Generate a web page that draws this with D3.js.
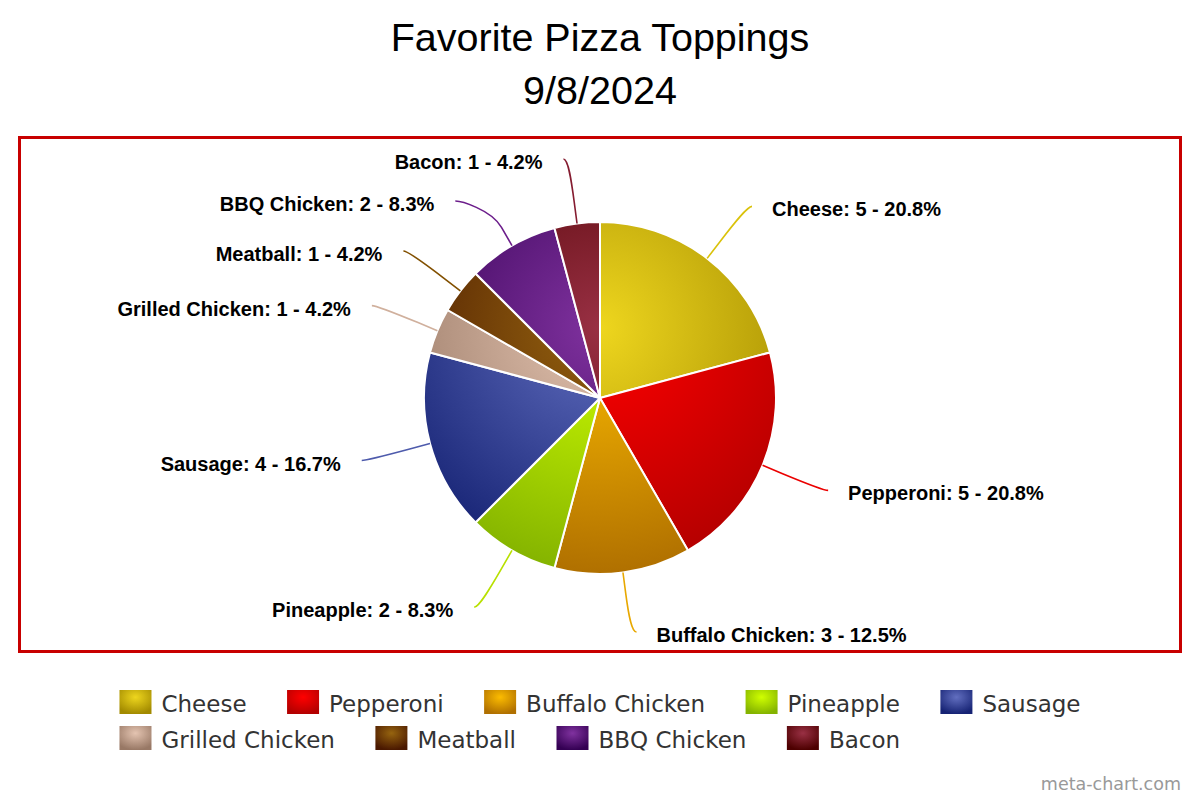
<!DOCTYPE html>
<html>
<head>
<meta charset="utf-8">
<script src="https://cdn.jsdelivr.net/npm/d3@7/dist/d3.min.js"></script>
<style>
  html, body { margin: 0; padding: 0; background: #fff; }
  svg { display: block; }
</style>
</head>
<body>
<svg id="chart" width="1200" height="800"></svg>
<script>
// ---- data ----
const titleLines = ["Favorite Pizza Toppings", "9/8/2024"];
const categories = ["Cheese", "Pepperoni", "Buffalo Chicken", "Pineapple", "Sausage",
                    "Grilled Chicken", "Meatball", "BBQ Chicken", "Bacon"];
const values = [5, 5, 3, 2, 4, 1, 1, 2, 1];
const colors = ["#eed61e", "#ff0000", "#fcbc00", "#d0ff00", "#626fc0",
                "#e4c4b1", "#96640f", "#80329f", "#993044"];
const credit = "meta-chart.com";

// ---- layout ----
const W = 1200, H = 800;
const plot = { x: 21, y: 139, w: 1158, h: 511 };
const cx = 600, cy = 398, R = 176;
const labelDist = 65.5;
const connOffset = 21;
const labelGap = 42;

const svg = d3.select("#chart");
const defs = svg.append("defs");

function darker(hex, amt) {
  const c = d3.rgb(hex);
  return d3.rgb(Math.max(0, c.r - amt), Math.max(0, c.g - amt), Math.max(0, c.b - amt)).formatHex();
}

// gradients for slices (relative to whole pie, in the pie group's coordinates) and legend symbols
colors.forEach((col, i) => {
  const g = defs.append("radialGradient")
    .attr("id", "pg" + i)
    .attr("gradientUnits", "userSpaceOnUse")
    .attr("cx", 0).attr("cy", -R + 0.3 * 2 * R).attr("r", 0.7 * 2 * R);
  g.append("stop").attr("offset", 0).attr("stop-color", col);
  g.append("stop").attr("offset", 1).attr("stop-color", darker(col, 76));
  const lg = defs.append("radialGradient")
    .attr("id", "lg" + i)
    .attr("cx", 0.5).attr("cy", 0.3).attr("r", 0.7);
  lg.append("stop").attr("offset", 0).attr("stop-color", col);
  lg.append("stop").attr("offset", 1).attr("stop-color", darker(col, 76));
});

// title
svg.append("g").selectAll("text").data(titleLines).join("text")
  .attr("x", W / 2)
  .attr("y", (d, i) => 51 + i * 53)
  .attr("text-anchor", "middle")
  .attr("font-family", "'Liberation Sans', Arial, sans-serif")
  .attr("font-size", 39.5)
  .attr("fill", "#000")
  .text(d => d);

// plot border
svg.append("rect")
  .attr("x", plot.x - 1.5).attr("y", plot.y - 1.5)
  .attr("width", plot.w + 3).attr("height", plot.h + 3)
  .attr("fill", "none").attr("stroke", "#c80000").attr("stroke-width", 3);

// pie
const total = d3.sum(values);
const pie = d3.pie().sort(null).value(d => d.v).startAngle(0).endAngle(2 * Math.PI);
const arcs = pie(values.map((v, i) => ({ v, i, name: categories[i], color: colors[i] })));
const arc = d3.arc().innerRadius(0).outerRadius(R);

const gPie = svg.append("g").attr("transform", `translate(${cx},${cy})`);
gPie.selectAll("path").data(arcs).join("path")
  .attr("d", arc)
  .attr("fill", d => `url(#pg${d.data.i})`)
  .attr("stroke", "#fff")
  .attr("stroke-width", 2)
  .attr("stroke-linejoin", "round");

// labels
const fmt = d3.format(".1f");
const LR = R + labelDist;
const labels = arcs.map(d => {
  const a = (d.startAngle + d.endAngle) / 2;
  const s = Math.sin(a), c = Math.cos(a);
  return {
    d, a, s, c,
    right: s >= 0,
    y0: cy - c * LR,
    text: `${d.data.name}: ${d.data.v} - ${fmt(d.data.v / total * 100)}%`
  };
});
const yMin = plot.y + 20, yMax = plot.y + plot.h - 18;
[true, false].forEach(side => {
  const grp = labels.filter(l => l.right === side).sort((a, b) => a.y0 - b.y0);
  let prev = -Infinity;
  grp.forEach(l => {
    l.y = Math.max(l.y0, prev + labelGap, yMin);
    prev = l.y;
  });
  let next = Infinity;
  for (let k = grp.length - 1; k >= 0; k--) {
    const l = grp[k];
    l.y = Math.min(l.y, next - labelGap, yMax);
    next = l.y;
  }
});
labels.forEach(l => {
  // near the top and bottom of the pie, keep the natural x position
  const yy = (l.y === yMax || l.y === yMin) ? l.y0 : l.y;
  const dy = yy - cy;
  const dx = Math.abs(dy) < LR ? Math.sqrt(LR * LR - dy * dy) : 0;
  l.x = l.right ? cx + dx : cx - dx;
  l.bx = cx + l.s * R; l.by = cy - l.c * R;
  l.b2x = cx + l.s * (R + connOffset); l.b2y = cy - l.c * (R + connOffset);
});

const gLab = svg.append("g");
gLab.selectAll("path").data(labels).join("path")
  .attr("d", l => {
    const hx = l.x + (l.right ? 5 : -5);
    return `M${hx},${l.y}C${l.x},${l.y} ${2 * l.b2x - l.bx},${2 * l.b2y - l.by} ${l.b2x},${l.b2y}L${l.bx},${l.by}`;
  })
  .attr("fill", "none")
  .attr("stroke", l => l.d.data.color === "#d0ff00" ? "#b8e000" : darker(l.d.data.color, 20))
  .attr("stroke-width", 1.6);

gLab.selectAll("text").data(labels).join("text")
  .attr("x", l => l.right ? l.x + 25 : l.x - 26)
  .attr("y", l => l.y + 10)
  .attr("text-anchor", l => l.right ? "start" : "end")
  .attr("font-family", "'Liberation Sans', Arial, sans-serif")
  .attr("font-weight", "bold")
  .attr("font-size", 20)
  .attr("fill", "#000")
  .text(l => l.text);

// legend
const gLeg = svg.append("g");
const legFont = "'DejaVu Sans', Verdana, sans-serif";
const legSize = 23;
const items = categories.map((name, i) => ({ name, i }));
const tmp = gLeg.append("text").attr("font-family", legFont).attr("font-size", legSize);
items.forEach(it => { tmp.text(it.name); it.tw = tmp.node().getComputedTextLength(); it.w = 42 + it.tw; });
tmp.remove();
const itemDist = 40.5, maxRow = 1000, rowH = 36, firstBase = 712;
const rows = [[]];
let rx = 0;
items.forEach(it => {
  const row = rows[rows.length - 1];
  if (row.length && rx + it.w > maxRow) { rows.push([]); rx = 0; }
  it.ox = rx; it.row = rows.length - 1;
  rows[rows.length - 1].push(it);
  rx += it.w + itemDist;
});
const legW = d3.max(rows, r => d3.max(r, it => it.ox + it.w));
const legX = (W - legW) / 2;
const gi = gLeg.selectAll("g").data(items).join("g")
  .attr("transform", it => `translate(${legX + it.ox},${firstBase + it.row * rowH})`);
gi.append("rect")
  .attr("x", 0).attr("y", -22).attr("width", 32).attr("height", 24)
  .attr("fill", it => `url(#lg${it.i})`);
gi.append("text")
  .attr("x", 42).attr("y", 0)
  .attr("font-family", legFont).attr("font-size", legSize)
  .attr("fill", "#333")
  .text(it => it.name);

// credit
svg.append("text")
  .attr("x", 1181).attr("y", 790)
  .attr("text-anchor", "end")
  .attr("font-family", legFont).attr("font-size", 17.5)
  .attr("fill", "#999")
  .text(credit);
</script>
</body>
</html>
